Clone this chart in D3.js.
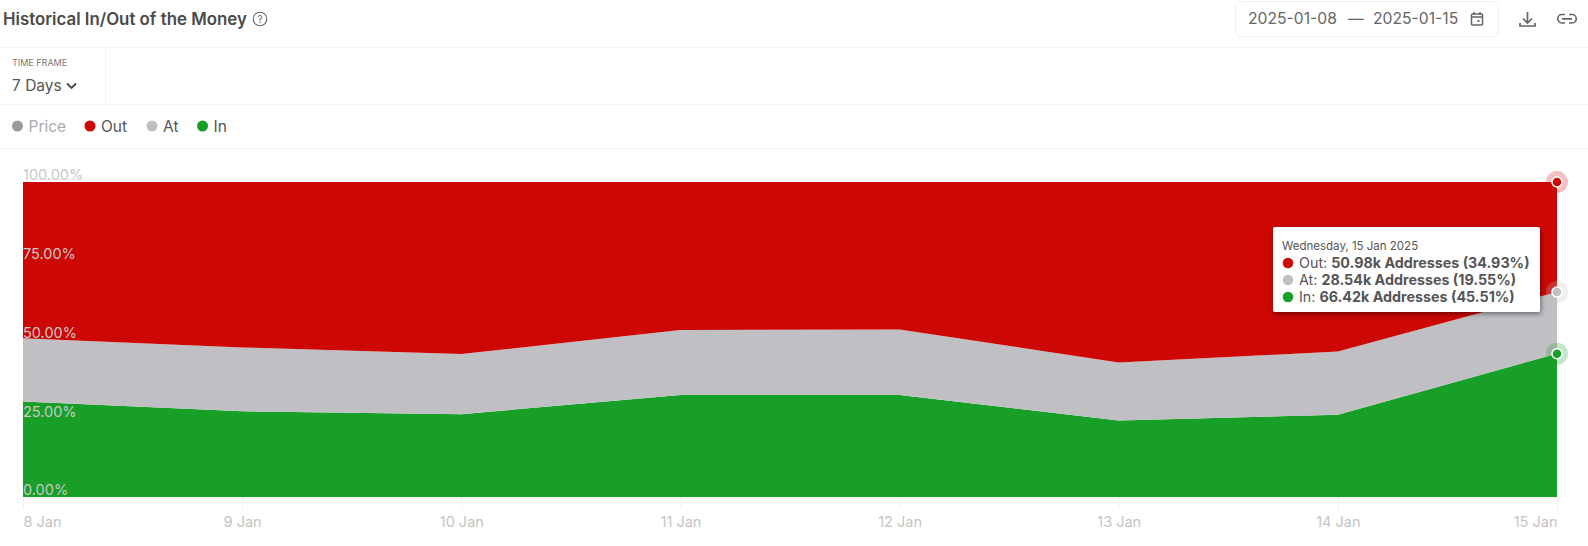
<!DOCTYPE html>
<html>
<head>
<meta charset="utf-8">
<script src="https://cdn.jsdelivr.net/npm/d3@7"></script>
<style>
  html, body { margin: 0; padding: 0; background: #fff; overflow: hidden; }
  svg { display: block; font-family: Inter, "Noto Sans", sans-serif; }
</style>
</head>
<body>
<div id="viz"></div>
<script>
// values (percent of addresses)
const days = ["2025-01-08", "2025-01-09", "2025-01-10", "2025-01-11", "2025-01-12", "2025-01-13", "2025-01-14", "2025-01-15"];
const inValues = [30.3, 27.2, 26.3, 32.4, 32.4, 24.3, 26.1, 45.51];
const atValues = [20.1, 20.3, 19.1, 20.6, 20.8, 18.4, 20.1, 19.55];
const outValues = [49.6, 52.5, 54.6, 47.0, 46.8, 57.3, 53.8, 34.93];
const yTicks = [0, 25, 50, 75, 100];
const seriesNames = ["In", "At", "Out"];
const seriesColors = { In: "#179f27", At: "#c0bfc4", Out: "#cc0704" };
const legendItems = ["Price", "Out", "At", "In"];
const legendX = [17.5, 90, 152, 202.5];
const tooltipRows = [
  ["Out", "50.98k Addresses (34.93%)"],
  ["At", "28.54k Addresses (19.55%)"],
  ["In", "66.42k Addresses (45.51%)"]
];

const width = 1588, height = 546;
const parseDay = d3.utcParse("%Y-%m-%d");
const rows = days.map((d, i) => ({ date: parseDay(d), In: inValues[i], At: atValues[i], Out: outValues[i] }));

const svg = d3.select("#viz").append("svg")
  .attr("width", width)
  .attr("height", height);

const x = d3.scaleUtc()
  .domain(d3.extent(rows, d => d.date))
  .range([23, 1557]);
const y = d3.scaleLinear()
  .domain([0, 100])
  .range([497, 182]);

// header
svg.append("text").attr("x", 3).attr("y", 25)
  .attr("font-size", 16.85).attr("font-weight", 600).attr("fill", "#4a4a4a")
  .text("Historical In/Out of the Money");
const help = svg.append("g").attr("transform", "translate(260,19)");
help.append("circle").attr("r", 6.8).attr("fill", "none").attr("stroke", "#666").attr("stroke-width", 1.1);
help.append("text").attr("text-anchor", "middle").attr("y", 3.6).attr("font-size", 10).attr("fill", "#666").text("?");

svg.append("rect").attr("x", 1235.5).attr("y", 1.5).attr("width", 263).attr("height", 35).attr("rx", 5)
  .attr("fill", "#fff").attr("stroke", "#f0f0f0");
svg.append("text").attr("x", 1248).attr("y", 24).attr("font-size", 15.7).attr("fill", "#666").text("2025-01-08");
svg.append("text").attr("x", 1348).attr("y", 24).attr("font-size", 15.7).attr("fill", "#666").text("—");
svg.append("text").attr("x", 1373).attr("y", 24).attr("font-size", 15.7).attr("fill", "#666").text("2025-01-15");

// calendar, download and link icons
const cal = svg.append("g").attr("transform", "translate(1477,19)").attr("fill", "none").attr("stroke", "#666").attr("stroke-width", 1.5);
cal.append("rect").attr("x", -5.5).attr("y", -5).attr("width", 11).attr("height", 11).attr("rx", 1);
cal.append("path").attr("d", "M-5.5,-2H5.5M-3,-7V-4.5M3,-7V-4.5");
cal.append("rect").attr("x", 0.5).attr("y", 1).attr("width", 2).attr("height", 2).attr("fill", "#666").attr("stroke", "none");
svg.append("path").attr("d", "M1527.5,12V23M1523,18.5L1527.5,23L1532,18.5M1520,23V26H1535V23")
  .attr("fill", "none").attr("stroke", "#666").attr("stroke-width", 1.7);
svg.append("path").attr("d", "M1565,14.5H1562A4,4 0 0 0 1562,23H1565M1569,14.5H1572A4,4 0 0 1 1572,23H1569M1562,18.8H1572")
  .attr("fill", "none").attr("stroke", "#666").attr("stroke-width", 1.7);

// filter row
const rules = [47.5, 104.5, 148.5];
svg.selectAll("line.rule").data(rules).join("line")
  .attr("class", "rule")
  .attr("x1", 0).attr("x2", width)
  .attr("y1", d => d).attr("y2", d => d)
  .attr("stroke", "#f0f0f0");
svg.append("line").attr("x1", 105.5).attr("x2", 105.5).attr("y1", 47).attr("y2", 104).attr("stroke", "#f0f0f0");
svg.append("text").attr("x", 12).attr("y", 66).attr("font-size", 9).attr("fill", "#777").text("TIME FRAME");
svg.append("text").attr("x", 12).attr("y", 91).attr("font-size", 15.5).attr("fill", "#555").text("7 Days");
svg.append("path").attr("d", "M67,83.5L71.5,88L76,83.5").attr("fill", "none").attr("stroke", "#444").attr("stroke-width", 1.8);

// legend
const legend = svg.selectAll("g.legend").data(legendItems).join("g")
  .attr("class", "legend")
  .attr("transform", (d, i) => `translate(${legendX[i]},126)`);
legend.append("circle").attr("r", 5.5)
  .attr("fill", d => d === "Price" ? "#9a9a9a" : seriesColors[d]);
legend.append("text").attr("x", 11).attr("y", 5.5).attr("font-size", 15.5)
  .attr("fill", d => d === "Price" ? "#aaa" : "#555")
  .text(d => d);

// stacked areas
const stacked = d3.stack().keys(seriesNames)(rows);
const area = d3.area()
  .x(d => x(d.data.date))
  .y0(d => y(d[0]))
  .y1(d => y(d[1]));
svg.selectAll("path.band").data(stacked).join("path")
  .attr("class", "band")
  .attr("d", area)
  .attr("fill", d => seriesColors[d.key]);

// x axis
const xAxis = d3.axisBottom(x)
  .tickValues(rows.map(d => d.date))
  .tickFormat(d3.utcFormat("%-d %b"))
  .tickSize(11)
  .tickPadding(8);
const gx = svg.append("g").attr("transform", "translate(0,497.5)").call(xAxis);
gx.select(".domain").attr("stroke", "#f0f0f0");
gx.selectAll(".tick line").attr("stroke", "#f0f0f0");
gx.selectAll(".tick text")
  .attr("font-family", "Inter, sans-serif")
  .attr("font-size", 14.5)
  .attr("fill", "#c4c4c4")
  .attr("text-anchor", (d, i) => i === 0 ? "start" : i === rows.length - 1 ? "end" : "middle");

// y axis labels sit on top of the areas
const yAxis = d3.axisRight(y)
  .tickValues(yTicks)
  .tickFormat(d => d.toFixed(2) + "%")
  .tickSize(0)
  .tickPadding(0);
const gy = svg.append("g").attr("transform", "translate(23,0)").call(yAxis);
gy.select(".domain").remove();
gy.selectAll(".tick text")
  .attr("font-family", "Inter, sans-serif")
  .attr("font-size", 14.5)
  .attr("fill", "#c8c8c8")
  .attr("dy", "-0.14em");

// hover markers on the last day
const last = stacked.map(s => ({ key: s.key, point: s[s.length - 1] }));
const markers = svg.selectAll("g.marker").data(last).join("g")
  .attr("class", "marker")
  .attr("transform", d => `translate(${x(d.point.data.date)},${y(d.point[1])})`);
markers.append("circle").attr("r", 11)
  .attr("fill", d => d3.color(seriesColors[d.key]).formatHex()).attr("opacity", 0.25);
markers.append("circle").attr("r", 5)
  .attr("fill", d => seriesColors[d.key]).attr("stroke", "#fff").attr("stroke-width", 1.5);

// tooltip
const defs = svg.append("defs");
const shadow = defs.append("filter").attr("id", "tipShadow")
  .attr("x", "-10%").attr("y", "-20%").attr("width", "120%").attr("height", "140%");
shadow.append("feDropShadow").attr("dx", 1).attr("dy", 2).attr("stdDeviation", 2.5)
  .attr("flood-color", "#000").attr("flood-opacity", 0.45);
const tip = svg.append("g").attr("transform", "translate(1273,227)");
tip.append("rect").attr("width", 267).attr("height", 85).attr("rx", 2)
  .attr("fill", "#fff").attr("filter", "url(#tipShadow)");
tip.append("text").attr("x", 9).attr("y", 23).attr("font-size", 11.5).attr("fill", "#555")
  .text("Wednesday, 15 Jan 2025");
const tipRow = tip.selectAll("g.row").data(tooltipRows).join("g")
  .attr("class", "row")
  .attr("transform", (d, i) => `translate(0,${36 + i * 17})`);
tipRow.append("circle").attr("cx", 15).attr("r", 5.3).attr("fill", d => seriesColors[d[0]]);
const tipText = tipRow.append("text").attr("x", 26).attr("y", 5).attr("font-size", 14.3).attr("fill", "#555");
tipText.append("tspan").text(d => d[0] + ": ");
tipText.append("tspan").attr("font-weight", 700).text(d => d[1]);
</script>
</body>
</html>
